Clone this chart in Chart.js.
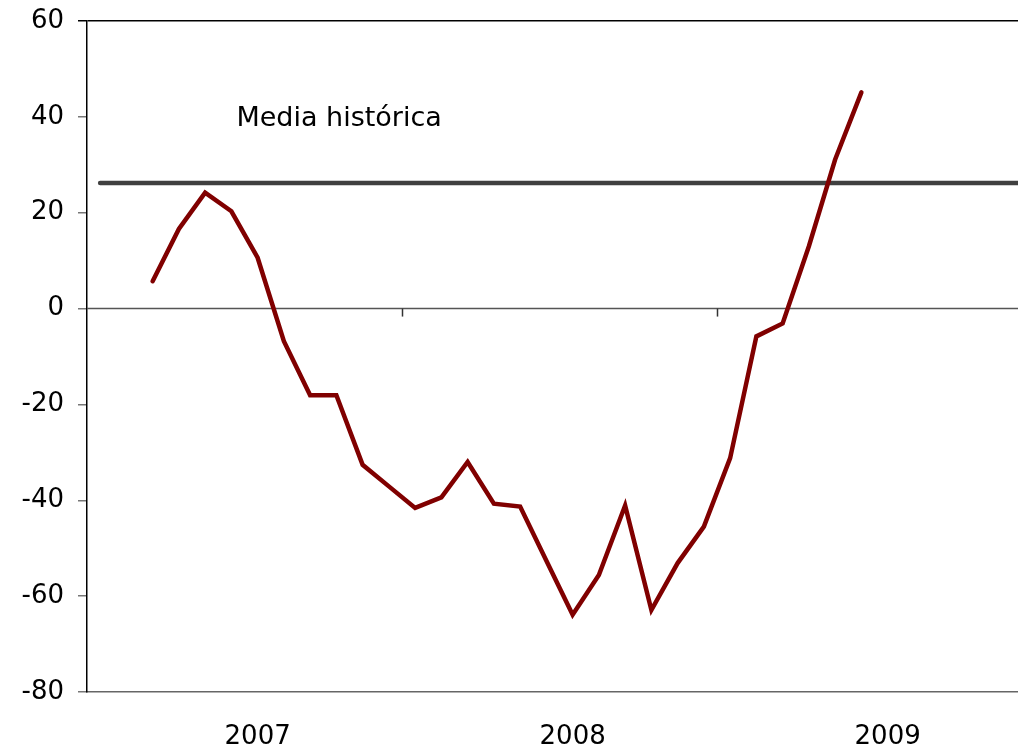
<!DOCTYPE html>
<html>
<head>
<meta charset="utf-8">
<script src="https://cdn.jsdelivr.net/npm/chart.js@4.4.1/dist/chart.umd.min.js"></script>
<style>
  html, body { margin: 0; padding: 0; background: #fff; overflow: hidden; }
  #wrap { width: 1049px; height: 748px; }
</style>
</head>
<body>
<div id="wrap"><canvas id="chart" width="1049" height="748"></canvas></div>
<script>
// Years on the category axis, one slot per month
const years = ['2007', '2008', '2009'];
const months = ['ene', 'feb', 'mar', 'abr', 'may', 'jun', 'jul', 'ago', 'sep', 'oct', 'nov', 'dic'];

// Monthly balance, March 2007 to June 2009
const balance = [
    null, null, 5.7, 16.6, 24.2, 20.3, 10.6, -6.8, -18.1, -18.1, -32.6, -37.1,
    -41.6, -39.4, -32.0, -40.7, -41.3, -52.6, -63.9, -55.6, -41.1, -62.9, -53.1, -45.5,
    -31.2, -5.8, -3.1, 13.0, 31.1, 45.1, null, null, null, null, null, null,
];

// Historical average, drawn across the full axis
const historicalMean = 26.2;
const meanLabel = 'Media histórica';

const yTicks = [60, 40, 20, 0, -20, -40, -60, -80];

const FONT = { family: '"DejaVu Sans", Verdana, sans-serif', size: 26 };

const labels = years.flatMap(y => months.map(m => `${m}-${y.slice(2)}`));

// Zero line with year separators, plus the caption of the mean line
const overlay = {
    id: 'overlay',
    beforeDatasetsDraw(chart) {
        const { ctx, chartArea, scales: { x, y } } = chart;
        const y0 = y.getPixelForValue(0);
        ctx.save();
        ctx.strokeStyle = '#555';
        ctx.lineWidth = 1.5;
        ctx.beginPath();
        ctx.moveTo(chartArea.left, y0);
        ctx.lineTo(chartArea.right, y0);
        ctx.stroke();
        ctx.strokeStyle = '#333';
        for (let i = 12; i < labels.length; i += 12) {
            const px = Math.round((x.getPixelForValue(i - 1) + x.getPixelForValue(i)) / 2) + 0.5;
            ctx.beginPath();
            ctx.moveTo(px, y0);
            ctx.lineTo(px, y0 + 8);
            ctx.stroke();
        }
        ctx.restore();
    },
    afterDatasetsDraw(chart) {
        const { ctx, scales: { x, y } } = chart;
        ctx.save();
        ctx.fillStyle = '#000';
        ctx.font = `27px ${FONT.family}`;
        ctx.textAlign = 'left';
        ctx.textBaseline = 'middle';
        ctx.fillText(meanLabel, x.getPixelForValue(5) + 5, y.getPixelForValue(39.6));
        ctx.restore();
    },
};

new Chart(document.getElementById('chart'), {
    type: 'line',
    data: {
        labels,
        datasets: [
            {
                label: 'Saldo',
                data: balance,
                borderColor: '#800000',
                borderWidth: 4.5,
                borderCapStyle: 'round',
                borderJoinStyle: 'miter',
                pointRadius: 0,
                tension: 0,
                fill: false,
            },
            {
                label: meanLabel,
                data: [
                    { x: labels[0], y: historicalMean },
                    { x: labels[labels.length - 1], y: historicalMean },
                ],
                borderColor: '#404040',
                borderWidth: 4.5,
                borderCapStyle: 'round',
                pointRadius: 0,
                tension: 0,
                fill: false,
            },
        ],
    },
    options: {
        responsive: false,
        animation: false,
        events: [],
        layout: { padding: { top: 21, right: 8, left: 0, bottom: 0 } },
        plugins: { legend: { display: false }, tooltip: { enabled: false } },
        scales: {
            x: {
                type: 'category',
                offset: true,
                grid: { display: false, drawTicks: false },
                border: { display: true, color: '#666', width: 1.5 },
                ticks: {
                    autoSkip: false,
                    maxRotation: 0,
                    padding: 30,
                    color: '#000',
                    font: FONT,
                    callback: (v, i) => (i % 12 === 6 ? years[Math.floor(i / 12)] : ''),
                },
                afterFit: s => { s.height = 56; },
            },
            y: {
                min: -80,
                max: 60,
                afterBuildTicks: s => { s.ticks = yTicks.map(value => ({ value })); },
                grid: {
                    color: c => (c.tick && c.tick.value === 60 ? '#000' : 'rgba(0,0,0,0)'),
                    tickColor: c => (c.tick && c.tick.value === 60 ? '#000' : '#777'),
                    lineWidth: 1.5,
                    tickLength: 9,
                },
                border: { display: true, color: '#000', width: 1.5 },
                ticks: { padding: 14, color: '#000', font: FONT },
                afterFit: s => { s.width = 87; s.paddingTop = 0; s.paddingBottom = 0; },
            },
        },
    },
    plugins: [overlay],
});
</script>
</body>
</html>
